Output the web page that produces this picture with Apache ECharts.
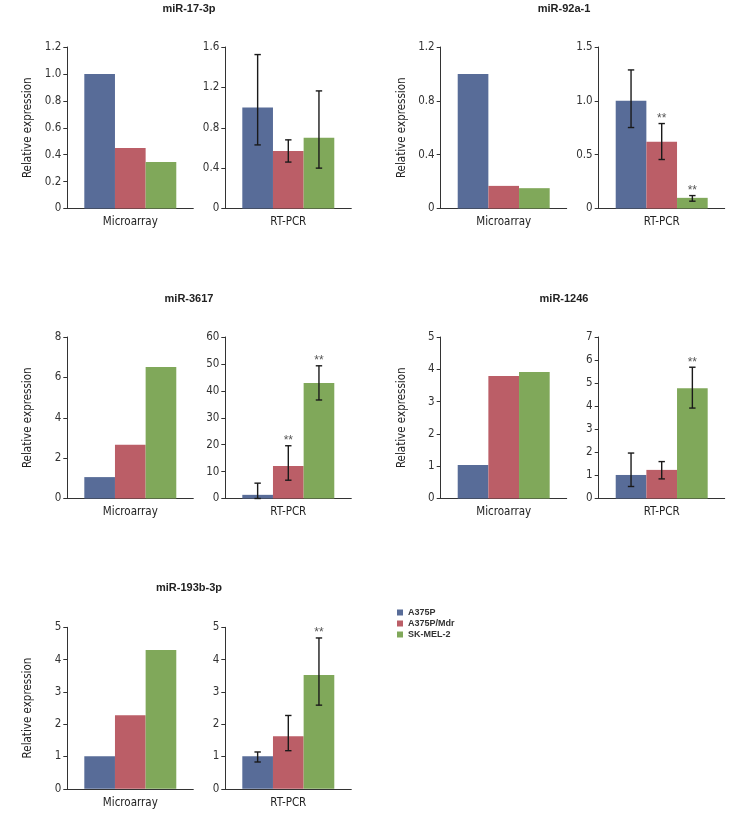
<!DOCTYPE html>
<html>
<head>
<meta charset="utf-8">
<script src="https://cdn.jsdelivr.net/npm/echarts@6/dist/echarts.min.js"></script>
<style>
html,body{margin:0;padding:0;background:#fff;}
#chart{width:735px;height:820px;}
</style>
</head>
<body>
<div id="chart"></div>
<script>
// ---------------- data ----------------
const genes = ['miR-17-3p', 'miR-92a-1', 'miR-3617', 'miR-1246', 'miR-193b-3p'];
const cellLines = ['A375P', 'A375P/Mdr', 'SK-MEL-2'];
const methods = ['Microarray', 'RT-PCR'];

// microarray relative expression [A375P, A375P/Mdr, SK-MEL-2]
const microarray = [
  [1.0, 0.45, 0.345],
  [1.0, 0.168, 0.151],
  [1.06, 2.66, 6.52],
  [1.04, 3.79, 3.92],
  [1.01, 2.28, 4.30]
];
// RT-PCR relative expression means
const rtpcr = [
  [1.0, 0.57, 0.70],
  [1.0, 0.62, 0.099],
  [1.36, 12.1, 42.9],
  [1.02, 1.24, 4.78],
  [1.01, 1.63, 3.52]
];
// RT-PCR error bar lower / upper ends
const rtpcrLow = [
  [0.63, 0.46, 0.40],
  [0.752, 0.455, 0.068],
  [0, 6.8, 36.6],
  [0.52, 0.85, 3.92],
  [0.83, 1.18, 2.59]
];
const rtpcrHigh = [
  [1.525, 0.68, 1.165],
  [1.287, 0.789, 0.12],
  [5.7, 19.6, 49.3],
  [1.97, 1.60, 5.69],
  [1.14, 2.27, 4.67]
];
// significance markers (**)
const significant = [
  [0, 0, 0],
  [0, 1, 1],
  [0, 1, 1],
  [0, 0, 1],
  [0, 0, 1]
];
// y-axis scales
const microAxisMax = [1.2, 1.2, 8, 5, 5];
const microAxisStep = [0.2, 0.4, 2, 1, 1];
const microAxisDec = [1, 1, 0, 0, 0];
const rtAxisMax = [1.6, 1.5, 60, 7, 5];
const rtAxisStep = [0.4, 0.5, 10, 1, 1];
const rtAxisDec = [1, 1, 0, 0, 0];

// ---------------- layout / style ----------------
const colors = ['#586c98', '#bb5e67', '#80a85a'];
const FONT = '"DejaVu Sans Condensed", "Liberation Sans Narrow", sans-serif';
const panelPos = [ // [microLeft, rtLeft, top, titleX, titleY]
  [67.3, 225.3, 47, 189, 9.7],
  [440.7, 598.7, 47, 564, 9.7],
  [67.3, 225.3, 337, 189, 300],
  [440.7, 598.7, 337, 564, 300],
  [67.3, 225.3, 627.3, 189, 589]
];
const gridW = 126, gridH = 161.5;
const catGap = 0.27;

const grids = [], xAxes = [], yAxes = [], series = [], titles = [];

function fmt(dec) {
  return function (v) { return v === 0 ? '0' : v.toFixed(dec); };
}

genes.forEach(function (gene, p) {
  const pos = panelPos[p];
  titles.push({
    text: gene, left: pos[3], top: pos[4] - 6.5, textAlign: 'center', padding: 0,
    textStyle: { fontFamily: '"Liberation Sans", Arial, sans-serif', fontSize: 11, fontWeight: 'bold', color: '#222' }
  });
  [0, 1].forEach(function (m) {
    const g = grids.length;
    grids.push({ left: m === 0 ? pos[0] : pos[1], top: pos[2], width: gridW, height: gridH });
    xAxes.push({
      type: 'category', gridIndex: g, data: [methods[m]],
      axisLine: { lineStyle: { color: '#333', width: 1 } },
      axisTick: { show: false },
      axisLabel: { fontFamily: FONT, fontSize: 11.5, color: '#222', margin: 8 }
    });
    const ymax = m === 0 ? microAxisMax[p] : rtAxisMax[p];
    const ystep = m === 0 ? microAxisStep[p] : rtAxisStep[p];
    const ydec = m === 0 ? microAxisDec[p] : rtAxisDec[p];
    yAxes.push({
      type: 'value', gridIndex: g, min: 0, max: ymax, interval: ystep,
      name: m === 0 ? 'Relative expression' : '',
      nameLocation: 'middle', nameGap: 33,
      nameTextStyle: { fontFamily: FONT, fontSize: 11.5, color: '#222' },
      axisLine: { show: true, lineStyle: { color: '#333', width: 1 } },
      axisTick: { show: true, length: 4, lineStyle: { color: '#333' } },
      splitLine: { show: false },
      axisLabel: { fontFamily: FONT, fontSize: 11.5, color: '#333', margin: 6, formatter: fmt(ydec) }
    });
    const vals = m === 0 ? microarray[p] : rtpcr[p];
    cellLines.forEach(function (cl, k) {
      series.push({
        type: 'bar', name: cl, xAxisIndex: g, yAxisIndex: g,
        data: [vals[k]], barGap: '0%', barCategoryGap: (catGap * 100) + '%',
        itemStyle: { color: colors[k] }, emphasis: { disabled: true }, animation: false
      });
    });
    if (m === 1) {
      const errData = cellLines.map(function (cl, k) {
        return [0, rtpcrLow[p][k], rtpcrHigh[p][k], k, significant[p][k]];
      });
      series.push({
        type: 'custom', xAxisIndex: g, yAxisIndex: g, z: 5, clip: false, animation: false,
        data: errData,
        encode: { x: 0, y: [1, 2] },
        renderItem: function (params, api) {
          const k = api.value(3);
          const band = api.size([1, 0])[0];
          const total = band * (1 - catGap);
          const bw = total / 3;
          const c0 = api.coord([api.value(0), api.value(1)]);
          const c1 = api.coord([api.value(0), api.value(2)]);
          const x = c0[0] - total / 2 + bw * (k + 0.5);
          const yLo = c0[1], yHi = c1[1];
          const st = { stroke: '#1a1a1a', lineWidth: 1.4 };
          const cap = 3.2;
          const children = [
            { type: 'line', shape: { x1: x, y1: yLo, x2: x, y2: yHi }, style: st },
            { type: 'line', shape: { x1: x - cap, y1: yHi, x2: x + cap, y2: yHi }, style: st },
            { type: 'line', shape: { x1: x - cap, y1: yLo, x2: x + cap, y2: yLo }, style: st }
          ];
          if (api.value(4)) {
            children.push({
              type: 'text', x: x, y: yHi - 11,
              style: { text: '**', fill: '#555', font: '12px "Liberation Sans", Arial, sans-serif', align: 'center', verticalAlign: 'top' }
            });
          }
          return { type: 'group', children: children };
        }
      });
    }
  });
});

const chart = echarts.init(document.getElementById('chart'), null, { renderer: 'canvas' });
chart.setOption({
  animation: false,
  backgroundColor: '#fff',
  title: titles,
  grid: grids,
  xAxis: xAxes,
  yAxis: yAxes,
  legend: {
    data: cellLines, orient: 'vertical', left: 397, top: 608, padding: 0,
    itemWidth: 6, itemHeight: 6, itemGap: 2, icon: 'rect', selectedMode: false,
    textStyle: { fontFamily: '"Liberation Sans", Arial, sans-serif', fontSize: 9, fontWeight: 'bold', color: '#333' }
  },
  series: series
});
</script>
</body>
</html>
